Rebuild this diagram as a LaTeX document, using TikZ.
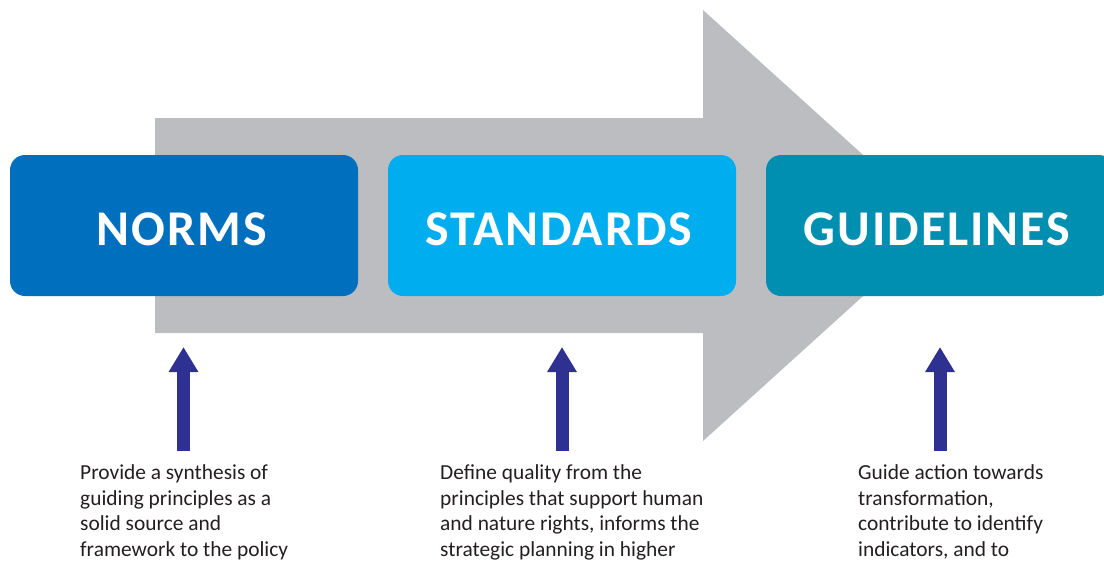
\documentclass[tikz,border=0pt]{standalone}
\usepackage{fontspec}
\setmainfont{Carlito}
\newfontfamily\headfont[LetterSpace=4]{Carlito}
\usetikzlibrary{arrows.meta}
\definecolor{bignorm}{HTML}{0070BE}
\definecolor{bigstd}{HTML}{00AEEF}
\definecolor{bigguide}{HTML}{008FB0}
\definecolor{biggray}{HTML}{BCBDC0}
\definecolor{upblue}{HTML}{2E3192}
\definecolor{bodytext}{HTML}{231F20}
\tikzset{
  x=1pt, y=-1pt,
  headbox/.style={rounded corners=15pt, minimum width=348pt, minimum height=141pt, inner sep=0pt},
  headtext/.style={anchor=base, text=white, inner sep=0pt, font=\headfont\bfseries\fontsize{50}{60}\selectfont},
  uparrow/.style={draw=upblue, line width=13pt, -{Triangle[width=28pt,length=25pt]}},
  desc/.style={anchor=north west, inner sep=0pt, align=left, text=bodytext,
     font=\fontsize{21.4}{25.7}\selectfont}
}
\begin{document}
\begin{tikzpicture}
\useasboundingbox (0,0) rectangle (1104,563);
% big gray arrow
\fill[biggray] (155,118) -- (703,118) -- (703,10) -- (941,225.5) -- (703,441) -- (703,333) -- (155,333) -- cycle;
% boxes
\node[headbox, fill=bignorm] (norms) at (184,225.5) {};
\node[headbox, fill=bigstd] (standards) at (562,225.5) {};
\node[headbox, fill=bigguide] (guidelines) at (940,225.5) {};
\node[headtext] (normst) at (182,245) {NORMS};
\node[headtext] (stdt) at (559,245) {STANDARDS};
\node[headtext] (guidet) at (937,245) {GUIDELINES};
% descriptions
\node[desc] (d1) at (80,464.5) {Provide a synthesis of\\guiding principles as a\\solid source and\\framework to the policy};
\node[desc] (d2) at (440,464.5) {Define quality from the\\principles that support human\\and nature rights, informs the\\strategic planning in higher};
\node[desc] (d3) at (858,464.5) {Guide action towards\\transformation,\\contribute to identify\\indicators, and to};
% up arrows
\coordinate (a1s) at (183.5,451);
\coordinate (a1e) at (183.5,347);
\coordinate (a2s) at (562,451);
\coordinate (a2e) at (562,347);
\coordinate (a3s) at (940,451);
\coordinate (a3e) at (940,347);
\draw[uparrow] (a1s) -- (a1e);
\draw[uparrow] (a2s) -- (a2e);
\draw[uparrow] (a3s) -- (a3e);
\end{tikzpicture}
\end{document}
